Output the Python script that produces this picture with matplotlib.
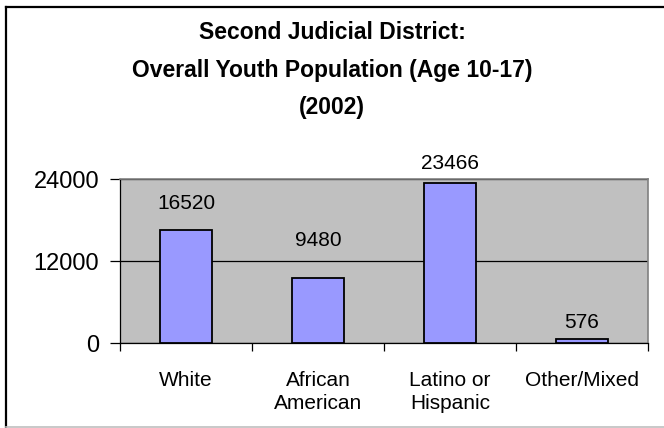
import numpy as np
import matplotlib.pyplot as plt
from matplotlib.lines import Line2D

plt.rcParams['font.family'] = ['Liberation Sans', 'DejaVu Sans']

# datos
categorias = ['White', 'African\nAmerican', 'Latino or\nHispanic', 'Other/Mixed']
poblacion = [16520, 9480, 23466, 576]
ticks_y = [0, 12000, 24000]

# desplazamiento de las etiquetas de valor (puntos), como en el original
desplaz = [19, 27, 14, 12]

W, H = 664, 428
fig = plt.figure(figsize=(W / 100, H / 100), dpi=100)
ax = fig.add_axes([120 / W, 1 - 343 / H, 528 / W, 164 / H])

# marco exterior del grafico (izq. y arriba negro, abajo gris)
fig.add_artist(Line2D([5.5 / W, 5.5 / W], [1 - 6.5 / H, 1 - 426.5 / H],
                      transform=fig.transFigure, color='black', linewidth=1.6))
fig.add_artist(Line2D([5.5 / W, 1.0], [1 - 6.5 / H, 1 - 6.5 / H],
                      transform=fig.transFigure, color='black', linewidth=1.6))
fig.add_artist(Line2D([5.5 / W, 1.0], [1 - 426.5 / H, 1 - 426.5 / H],
                      transform=fig.transFigure, color='#bfbfbf', linewidth=1.2))

x = np.arange(len(categorias))
ax.set_facecolor('#c0c0c0')
ax.bar(x, poblacion, width=0.4, color='#9999ff', edgecolor='black',
       linewidth=1.3, zorder=3)

for xi, v, d in zip(x, poblacion, desplaz):
    ax.annotate(str(v), (xi, v), xytext=(0, d), textcoords='offset points',
                ha='center', va='center', fontsize=15)

ax.set_xlim(-0.5, len(categorias) - 0.5)
ax.set_ylim(0, 24000)
ax.set_yticks(ticks_y)
ax.set_yticklabels([str(t) for t in ticks_y], fontsize=17)
ax.yaxis.grid(True, color='black', linewidth=0.9, zorder=1)
ax.set_axisbelow(True)

# ticks del eje x entre categorias, etiquetas centradas
ax.set_xticks(np.arange(len(categorias) + 1) - 0.5)
ax.set_xticklabels([])
ax.set_xticks(x, minor=True)
ax.set_xticklabels(categorias, minor=True, fontsize=15, linespacing=1.3)
ax.tick_params(axis='x', which='minor', length=0, pad=20)
ax.tick_params(axis='x', which='major', length=6, width=0.9, direction='out')
ax.tick_params(axis='y', length=7, width=0.9, direction='out', pad=8)

for s in ['top', 'right']:
    ax.spines[s].set_color('#808080')
    ax.spines[s].set_linewidth(1.2)
for s in ['left', 'bottom']:
    ax.spines[s].set_color('black')
    ax.spines[s].set_linewidth(0.9)

fig.text(0.5, 1 - 70 / H,
         'Second Judicial District:\nOverall Youth Population (Age 10-17)\n(2002)',
         ha='center', va='center', fontsize=16.5, fontweight='bold', linespacing=1.8)

plt.savefig('out.png', dpi=100)
